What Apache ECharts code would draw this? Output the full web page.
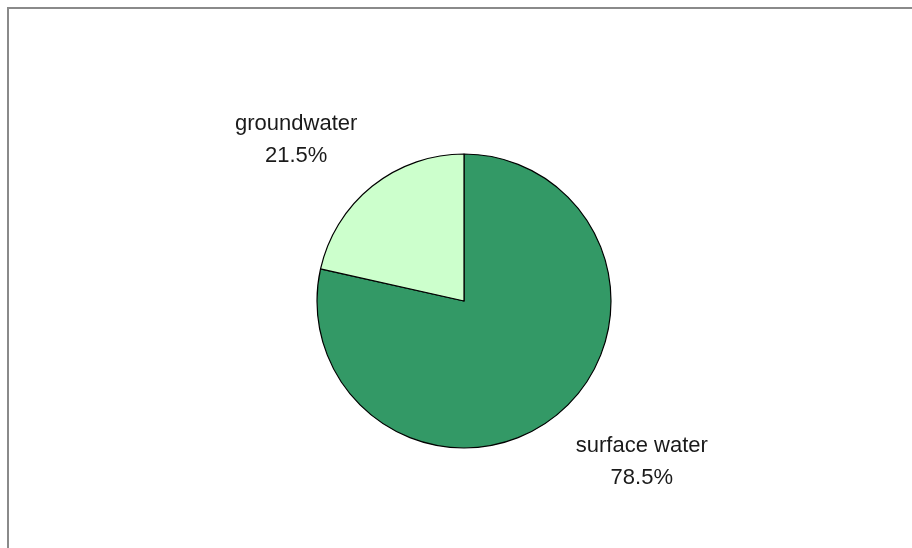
<!DOCTYPE html>
<html>
<head>
<meta charset="utf-8">
<script src="https://cdn.jsdelivr.net/npm/echarts@6/dist/echarts.min.js"></script>
<style>
  html, body { margin: 0; padding: 0; background: #fff; }
  #chart { width: 912px; height: 548px; }
</style>
</head>
<body>
<div id="chart"></div>
<script>
  // water source shares (percent), clockwise from 12 o'clock
  const categories = ['surface water', 'groundwater']
  const values = [78.5, 21.5]
  const colors = ['#339966', '#ccffcc']

  const cx = 464, cy = 301, r = 147
  const total = values.reduce((a, b) => a + b, 0)

  // mid angle of each slice (radians, maths convention), pie starts at 90deg going clockwise
  function midAngle(i) {
    let before = 0
    for (let k = 0; k < i; k++) before += values[k]
    const mid = before + values[i] / 2
    return (90 - mid / total * 360) * Math.PI / 180
  }

  const chart = echarts.init(document.getElementById('chart'))
  chart.setOption({
    animation: false,
    graphic: [{
      type: 'rect',
      shape: { x: 8, y: 8, width: 1200, height: 1200 },
      style: { fill: 'none', stroke: '#8a8a8a', lineWidth: 2 },
      silent: true
    }],
    series: [{
      type: 'pie',
      center: [cx, cy],
      radius: r,
      startAngle: 90,
      clockwise: true,
      data: categories.map((name, i) => ({
        name: name,
        value: values[i],
        itemStyle: { color: colors[i] }
      })),
      itemStyle: { borderColor: '#000', borderWidth: 1.2 },
      emphasis: { disabled: true },
      label: {
        show: true,
        position: 'outside',
        fontFamily: 'Liberation Sans, Arial, sans-serif',
        fontSize: 22,
        lineHeight: 32,
        color: '#1a1a1a',
        align: 'center',
        formatter: (p) => p.name + '\n' + p.value.toFixed(1) + '%'
      },
      labelLine: { show: false },
      // labels sit beyond the rim along each slice's mid angle, pushed a bit sideways
      labelLayout: (p) => {
        const a = midAngle(p.dataIndex)
        const side = Math.cos(a) < 0 ? -1 : 1
        return {
          x: cx + 206 * Math.cos(a) + side * 44 + 5,
          y: cy - 206 * Math.sin(a),
          align: 'center',
          verticalAlign: 'middle'
        }
      }
    }]
  })
</script>
</body>
</html>
